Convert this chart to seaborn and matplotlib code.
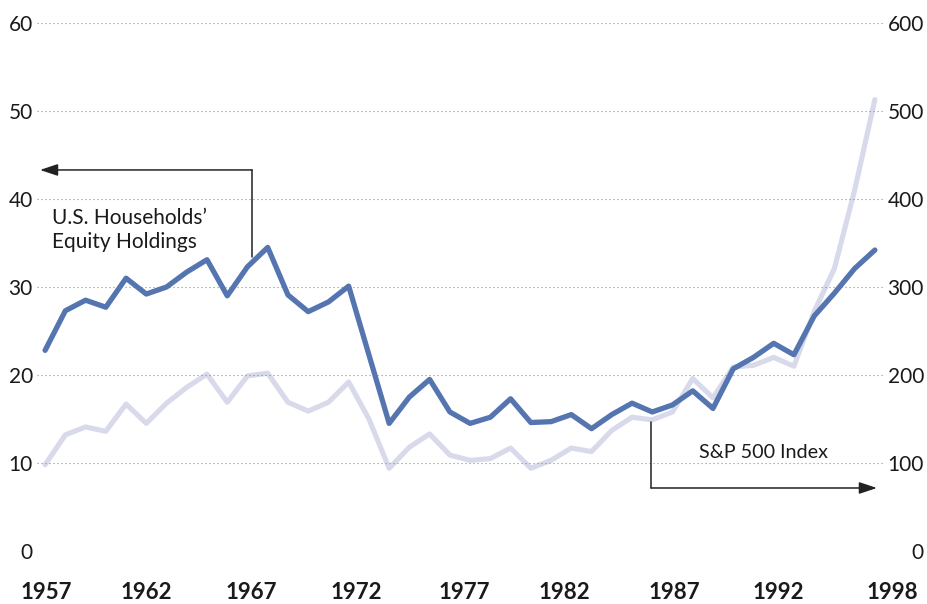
import numpy as np
import pandas as pd
import matplotlib
matplotlib.use("Agg")
import matplotlib.pyplot as plt
import seaborn as sns
from matplotlib.transforms import blended_transform_factory

# ---------------- data ----------------
years = list(range(1957, 1999))
equity_holdings = [22.8, 27.3, 28.5, 27.7, 31.0, 29.2, 30.0, 31.7, 33.1, 29.0,
                   32.3, 34.5, 29.1, 27.2, 28.3, 30.1, 22.3, 14.5, 17.5, 19.5,
                   15.8, 14.5, 15.2, 17.3, 14.6, 14.7, 15.5, 13.9, 15.5, 16.8,
                   15.8, 16.6, 18.2, 16.2, 20.7, 22.0, 23.6, 22.3, 26.7, 29.3,
                   32.1, 34.2]
sp500_index = [98, 132, 141, 136, 167, 145, 168, 186, 201, 169,
               199, 202, 169, 159, 169, 192, 150, 94, 118, 133,
               109, 103, 105, 117, 94, 103, 117, 113, 137, 152,
               149, 158, 196, 174, 209, 211, 220, 210, 272, 321,
               410, 513]
x_labels = ["1957", "1962", "1967", "1972", "1977", "1982", "1987", "1992", "1998"]
left_ticks = [0, 10, 20, 30, 40, 50, 60]
right_ticks = [0, 100, 200, 300, 400, 500, 600]

# ---------------- style ----------------
BLUE = "#5575B0"
LIGHT = "#D8DAEC"
TEXT = "#1a1a1a"

sns.set_theme(style="white")
plt.rcParams["font.family"] = ["Lato", "DejaVu Sans"]

fig = plt.figure(figsize=(9.27, 6.04), dpi=100)
ax = fig.add_axes([37 / 927, 53 / 604, 848 / 927, 528 / 604])
ax2 = ax.twinx()

df = pd.DataFrame({"year": years, "equity": equity_holdings, "sp500": sp500_index})

sns.lineplot(data=df, x="year", y="sp500", ax=ax2, color=LIGHT, linewidth=3.7)
sns.lineplot(data=df, x="year", y="equity", ax=ax, color=BLUE, linewidth=3.8)

ax.set_zorder(2)
ax2.set_zorder(1)
ax.patch.set_visible(False)

ax.set_xlim(1956.6, 1998.5)
ax.set_ylim(0, 60)
ax2.set_ylim(0, 600)

for a in (ax, ax2):
    a.set_xlabel("")
    a.set_ylabel("")
    for s in a.spines.values():
        s.set_visible(False)

ax.set_xticks([])
ax.set_yticks(left_ticks)
ax.set_yticklabels([str(t) for t in left_ticks])
ax.tick_params(axis="y", length=0, pad=3, labelsize=15, labelcolor=TEXT)
ax.grid(axis="y", linestyle=(0, (1, 2.6)), color="#8c8c8c", linewidth=0.8)
ax.grid(axis="x", visible=False)

ax2.set_yticks(right_ticks)
ax2.set_yticklabels([str(t) for t in right_ticks])
ax2.tick_params(axis="y", length=0, pad=28, labelsize=15, labelcolor=TEXT)
for lbl in ax2.get_yticklabels():
    lbl.set_horizontalalignment("right")
ax2.grid(False)

# x labels (evenly spread as in the original layout)
label_px = [46, 146, 251, 356, 464, 564, 674, 778, 892]
px_per_year = 848 / (1998.5 - 1956.6)
label_pos = [1956.6 + (p - 37) / px_per_year for p in label_px]
trans = blended_transform_factory(ax.transData, ax.transAxes)
for pos, lab in zip(label_pos, x_labels):
    ax.text(pos, -0.078, lab, transform=trans, ha="center", va="center",
            fontsize=16, fontweight="bold", color=TEXT, clip_on=False)

# annotations
arrow_kw = dict(arrowstyle="-|>,head_length=0.9,head_width=0.3", color="#222222",
                lw=1.1, shrinkA=0, shrinkB=0, mutation_scale=12)
ax.plot([1967.23, 1967.23], [33.4, 43.3], color="#222222", lw=1.1, clip_on=False)
ax.annotate("", xy=(1956.75, 43.3), xytext=(1967.23, 43.3), arrowprops=arrow_kw,
            annotation_clip=False)
ax.text(1957.35, 37.2, "U.S. Households\u2019", fontsize=15, color=TEXT, va="baseline")
ax.text(1957.35, 34.45, "Equity Holdings", fontsize=15, color=TEXT, va="baseline")

ax.plot([1986.94, 1986.94], [7.16, 14.66], color="#222222", lw=1.1, clip_on=False)
ax.annotate("", xy=(1998.1, 7.16), xytext=(1986.94, 7.16), arrowprops=arrow_kw,
            annotation_clip=False)
ax.text(1989.3, 10.55, "S&P 500 Index", fontsize=14.2, color=TEXT, va="baseline")

fig.savefig("out.png", dpi=100)
